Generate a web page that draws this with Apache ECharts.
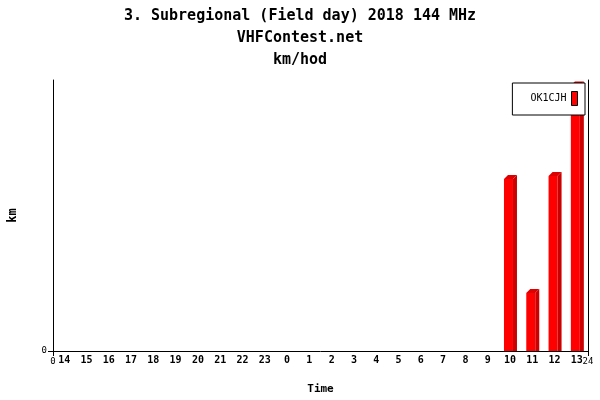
<!DOCTYPE html>
<html><head><meta charset="utf-8">
<script src="https://cdn.jsdelivr.net/npm/echarts@6/dist/echarts.min.js"></script>
<style>html,body{margin:0;padding:0;background:#fff}#c{width:600px;height:400px}</style>
</head><body><div id="c"></div>
<script>
const hours = ['14','15','16','17','18','19','20','21','22','23','0','1','2','3','4','5','6','7','8','9','10','11','12','13'];
const kmValues = [0,0,0,0,0,0,0,0,0,0,0,0,0,0,0,0,0,0,0,0,63.5,21.4,64.6,98];
const seriesName = 'OK1CJH';
const titles = ['3. Subregional (Field day) 2018 144 MHz','VHFContest.net','km/hod'];
const edgeLabels = [0,24];

const FONT = 'DejaVu Sans Mono';
const chart = echarts.init(document.getElementById('c'), null, {renderer:'canvas'});
chart.setOption({
  animation:false,
  backgroundColor:'#fff',
  title: titles.map((t,i)=>({text:t,left:'center',top:4+i*22,
    textStyle:{fontFamily:FONT,fontSize:15,fontWeight:'bold',color:'#000'}})),
  grid:{left:53,right:12,top:80,bottom:49,containLabel:false,outerBoundsMode:'none'},
  legend:{right:15,top:83,orient:'horizontal',align:'right',
    data:[{name:seriesName,icon:'rect'}],
    itemWidth:6,itemHeight:14,
    itemStyle:{borderColor:'#000',borderWidth:1},
    padding:[8,7,9,18],borderColor:'#000',borderWidth:1,backgroundColor:'#fff',
    textStyle:{fontFamily:FONT,fontSize:10,color:'#000'}},
  xAxis:[
    {type:'category',data:hours,boundaryGap:true,
     axisLine:{lineStyle:{color:'#000'}},axisTick:{show:false},
     axisLabel:{fontFamily:FONT,fontSize:10,fontWeight:'bold',color:'#000',margin:4,interval:0},
     name:'Time',nameLocation:'middle',nameGap:33,
     nameTextStyle:{fontFamily:FONT,fontSize:11,fontWeight:'bold',color:'#000'}},
    {type:'value',min:0,max:24,position:'bottom',
     axisLine:{show:false},splitLine:{show:false},
     axisTick:{show:true,length:5,customValues:edgeLabels,lineStyle:{color:'#000'}},
     axisLabel:{show:true,customValues:edgeLabels,fontFamily:FONT,fontSize:9,color:'#000',margin:6}}
  ],
  yAxis:[
    {type:'value',min:0,max:100,
     axisLine:{show:true,lineStyle:{color:'#000'}},splitLine:{show:false},
     axisTick:{show:true,length:5,customValues:[0],lineStyle:{color:'#000'}},
     axisLabel:{show:true,customValues:[0],fontFamily:FONT,fontSize:9,color:'#000',margin:6},
     name:'km',nameLocation:'middle',nameGap:34,nameRotate:90,
     nameTextStyle:{fontFamily:FONT,fontSize:12,fontWeight:'bold',color:'#000'}},
    {type:'value',min:0,max:100,position:'right',
     axisLine:{show:true,lineStyle:{color:'#000'}},splitLine:{show:false},
     axisTick:{show:false},axisLabel:{show:false}}
  ],
  series:[{
    name:seriesName,type:'custom',xAxisIndex:0,yAxisIndex:0,
    itemStyle:{color:'#ff0000'},
    data:kmValues.map((v,i)=>[i,v]),
    renderItem:function(params,api){
      const v = api.value(1);
      if(!v) return null;
      const p = api.coord([api.value(0),v]);
      const b = api.coord([api.value(0),0]);
      const cx = p[0];
      const fl = cx-6, fr = cx+3, d=4;
      return {type:'group',children:[
        {type:'rect',shape:{x:fl,y:p[1],width:fr-fl,height:b[1]-p[1]},style:{fill:'#ff0000'}},
        {type:'polygon',shape:{points:[[fr,p[1]],[fr+d,p[1]-d],[fr+d,b[1]],[fr,b[1]]]},style:{fill:'#cc0000'}},
        {type:'polygon',shape:{points:[[fl,p[1]],[fl+d,p[1]-d],[fr+d,p[1]-d],[fr,p[1]]]},style:{fill:'#dd0000'}}
      ]};
    }
  }]
});
</script></body></html>
